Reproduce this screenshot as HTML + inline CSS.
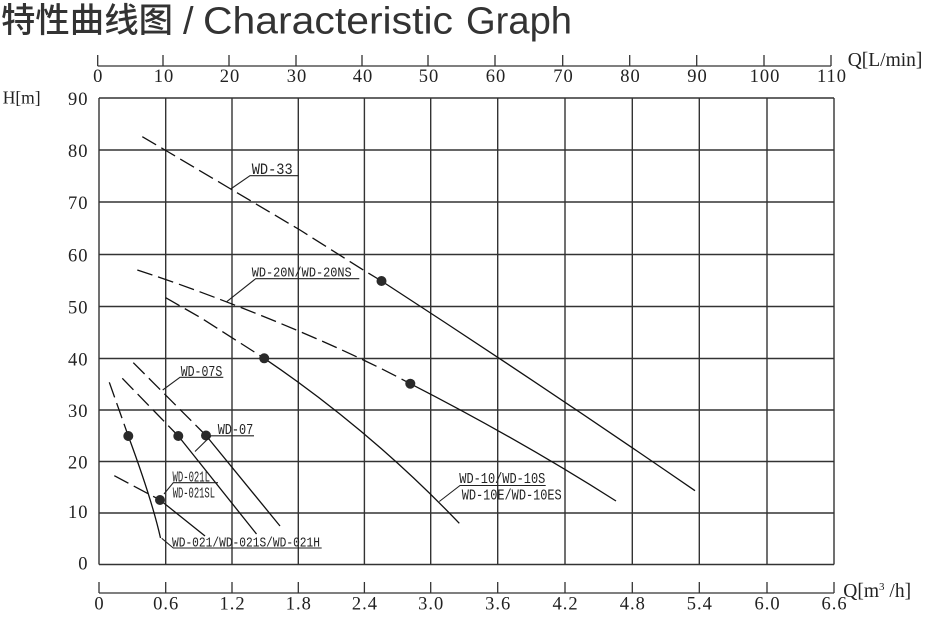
<!DOCTYPE html>
<html><head><meta charset="utf-8"><style>
html,body{margin:0;padding:0;background:#fff;}
svg{display:block;}
.t{font-family:"Liberation Serif",serif;font-size:18.5px;fill:#222;letter-spacing:1px;}
.lb{font-family:"Liberation Mono",monospace;font-size:15px;fill:#222;}
</style></head><body>
<svg width="930" height="617" viewBox="0 0 930 617" xmlns="http://www.w3.org/2000/svg">
<rect width="930" height="617" fill="#fff"/>
<!-- title -->
<text x="1" y="32" font-family="'Liberation Sans','Noto Sans CJK SC',sans-serif" font-size="34" font-weight="500" fill="#333" textLength="172" lengthAdjust="spacingAndGlyphs">特性曲线图</text>
<text x="183" y="33.3" font-family="'Liberation Sans',sans-serif" font-size="38" fill="#333">/</text>
<text x="203" y="33.3" font-family="'Liberation Sans',sans-serif" font-size="38" fill="#333" textLength="250" lengthAdjust="spacingAndGlyphs">Characteristic</text>
<text x="466" y="33.3" font-family="'Liberation Sans',sans-serif" font-size="38" fill="#333" textLength="106" lengthAdjust="spacingAndGlyphs">Graph</text>

<!-- top axis -->
<g stroke="#333" stroke-width="1.3" fill="none">
<line x1="97.7" y1="66" x2="831" y2="66"/>
<line x1="97.7" y1="55" x2="97.7" y2="66"/>
<line x1="163" y1="55" x2="163" y2="66"/>
<line x1="229" y1="55" x2="229" y2="66"/>
<line x1="296" y1="55" x2="296" y2="66"/>
<line x1="362" y1="55" x2="362" y2="66"/>
<line x1="428" y1="55" x2="428" y2="66"/>
<line x1="495" y1="55" x2="495" y2="66"/>
<line x1="562.7" y1="55" x2="562.7" y2="66"/>
<line x1="629.7" y1="55" x2="629.7" y2="66"/>
<line x1="696.7" y1="55" x2="696.7" y2="66"/>
<line x1="764" y1="55" x2="764" y2="66"/>
<line x1="831" y1="55" x2="831" y2="66"/>
</g>
<g class="t" text-anchor="middle">
<text x="98.2" y="82">0</text>
<text x="164" y="82">10</text>
<text x="230" y="82">20</text>
<text x="297" y="82">30</text>
<text x="363" y="82">40</text>
<text x="429" y="82">50</text>
<text x="496" y="82">60</text>
<text x="563.5" y="82">70</text>
<text x="630.5" y="82">80</text>
<text x="697.5" y="82">90</text>
<text x="765" y="82">100</text>
<text x="832" y="82">110</text>
</g>
<text x="847.7" y="66" font-family="'Liberation Serif',serif" font-size="19.5" fill="#222">Q[L/min]</text>

<!-- grid -->
<g stroke="#333" stroke-width="1.4" fill="none">
<line x1="99" y1="98" x2="834" y2="98"/>
<line x1="99" y1="150" x2="834" y2="150"/>
<line x1="99" y1="202" x2="834" y2="202"/>
<line x1="99" y1="254.5" x2="834" y2="254.5"/>
<line x1="99" y1="306.5" x2="834" y2="306.5"/>
<line x1="99" y1="358.5" x2="834" y2="358.5"/>
<line x1="99" y1="410" x2="834" y2="410"/>
<line x1="99" y1="461.5" x2="834" y2="461.5"/>
<line x1="99" y1="513" x2="834" y2="513"/>
<line x1="99" y1="564.5" x2="834" y2="564.5"/>
<line x1="99" y1="98" x2="99" y2="564.5"/>
<line x1="165.7" y1="98" x2="165.7" y2="564.5"/>
<line x1="232" y1="98" x2="232" y2="564.5"/>
<line x1="298.3" y1="98" x2="298.3" y2="564.5"/>
<line x1="364.4" y1="98" x2="364.4" y2="564.5"/>
<line x1="430.7" y1="98" x2="430.7" y2="564.5"/>
<line x1="497.7" y1="98" x2="497.7" y2="564.5"/>
<line x1="565" y1="98" x2="565" y2="564.5"/>
<line x1="632.3" y1="98" x2="632.3" y2="564.5"/>
<line x1="699.3" y1="98" x2="699.3" y2="564.5"/>
<line x1="767" y1="98" x2="767" y2="564.5"/>
<line x1="834" y1="98" x2="834" y2="564.5"/>
</g>

<!-- y labels -->
<text x="2.7" y="103.5" font-family="'Liberation Serif',serif" font-size="17.5" fill="#222">H[m]</text>
<g class="t" text-anchor="end">
<text x="88.5" y="105">90</text>
<text x="88.5" y="157">80</text>
<text x="88.5" y="209">70</text>
<text x="88.5" y="261.5">60</text>
<text x="88.5" y="313.5">50</text>
<text x="88.5" y="365.5">40</text>
<text x="88.5" y="417">30</text>
<text x="88.5" y="468.5">20</text>
<text x="88.5" y="518">10</text>
<text x="88.5" y="569.5">0</text>
</g>

<!-- bottom axis -->
<g stroke="#333" stroke-width="1.3" fill="none">
<line x1="99" y1="593" x2="834" y2="593"/>
<line x1="99" y1="582" x2="99" y2="593"/>
<line x1="165.7" y1="582" x2="165.7" y2="593"/>
<line x1="232" y1="582" x2="232" y2="593"/>
<line x1="298.3" y1="582" x2="298.3" y2="593"/>
<line x1="364.4" y1="582" x2="364.4" y2="593"/>
<line x1="430.7" y1="582" x2="430.7" y2="593"/>
<line x1="497.7" y1="582" x2="497.7" y2="593"/>
<line x1="565" y1="582" x2="565" y2="593"/>
<line x1="632.3" y1="582" x2="632.3" y2="593"/>
<line x1="699.3" y1="582" x2="699.3" y2="593"/>
<line x1="767" y1="582" x2="767" y2="593"/>
<line x1="834" y1="582" x2="834" y2="593"/>
</g>
<g class="t" text-anchor="middle">
<text x="99.5" y="609.5">0</text>
<text x="166.2" y="609.5">0.6</text>
<text x="232.5" y="609.5">1.2</text>
<text x="298.8" y="609.5">1.8</text>
<text x="364.9" y="609.5">2.4</text>
<text x="431.2" y="609.5">3.0</text>
<text x="498.2" y="609.5">3.6</text>
<text x="565.5" y="609.5">4.2</text>
<text x="632.8" y="609.5">4.8</text>
<text x="699.8" y="609.5">5.4</text>
<text x="767.5" y="609.5">6.0</text>
<text x="834.5" y="609.5">6.6</text>
</g>
<text x="843.3" y="597" font-family="'Liberation Serif',serif" font-size="19.5" fill="#222">Q[m<tspan font-size="11" dy="-7">3</tspan><tspan dy="7"> /h]</tspan></text>

<!-- curves dashed -->
<g stroke="#111" stroke-width="1.3" fill="none" stroke-dasharray="16 6">
<polyline points="142.3,136.7 165,150 230.7,189 300,230 363.3,270 381.5,281"/>
<path d="M137.3,270 C200,290 330,340 410.3,383.7"/>
<polyline points="165.7,297.7 201.7,318.3 264.2,358.3"/>
<polyline points="133.3,362.7 206,435.5"/>
<polyline points="122.3,378.3 178.3,436"/>
<polyline points="109.3,382.3 128.3,436"/>
<polyline points="114.3,475.7 160,500"/>
</g>
<!-- curves solid -->
<g stroke="#111" stroke-width="1.3" fill="none">
<path d="M381.5,281 Q540,384 695,490.7"/>
<path d="M410.3,383.7 Q520,440 616,501"/>
<path d="M264.2,358.3 Q370,430 459.3,523.3"/>
<polyline points="206,435.5 280,526"/>
<polyline points="178.3,436 256.5,534"/>
<path d="M128.3,436 Q152,500 160.5,538"/>
<polyline points="160,500 205,536"/>
</g>
<!-- dots -->
<g fill="#2a2a2a">
<circle cx="381.5" cy="281" r="5"/>
<circle cx="410.3" cy="383.7" r="5"/>
<circle cx="264.2" cy="358.3" r="5"/>
<circle cx="206" cy="435.5" r="5"/>
<circle cx="178.3" cy="436" r="5"/>
<circle cx="128.3" cy="436" r="5"/>
<circle cx="160" cy="500" r="5"/>
</g>

<!-- leaders + underlines -->
<g stroke="#222" stroke-width="1.1" fill="none">
<polyline points="230.7,189 250,175.7 298.3,175.7"/>
<polyline points="226.7,301.7 255.7,278.7 359.3,278.7"/>
<polyline points="439.3,501.5 460,485.5 545.7,485.5"/>
<polyline points="162.7,390 180,377.3 223.3,377.3"/>
<polyline points="195,451.5 211,435.8 254,435.8"/>
<polyline points="164,494 173.3,482.7 218,482.7"/>
<polyline points="161.7,538.3 173.3,548 321.7,548"/>
</g>

<!-- labels -->
<g class="lb">
<text x="251.7" y="174" font-size="16" textLength="41" lengthAdjust="spacingAndGlyphs">WD-33</text>
<text x="251.7" y="276.5" font-size="14" textLength="100" lengthAdjust="spacingAndGlyphs">WD-20N/WD-20NS</text>
<text x="459.3" y="483" textLength="86" lengthAdjust="spacingAndGlyphs">WD-10/WD-10S</text>
<text x="461.7" y="499.3" textLength="100" lengthAdjust="spacingAndGlyphs">WD-10E/WD-10ES</text>
<text x="180.7" y="376" textLength="41.6" lengthAdjust="spacingAndGlyphs">WD-07S</text>
<text x="217.7" y="434" textLength="35.6" lengthAdjust="spacingAndGlyphs">WD-07</text>
<text x="172.5" y="481.5" font-size="15" textLength="37.5" lengthAdjust="spacingAndGlyphs">WD-021L</text>
<text x="172.7" y="497.3" font-size="15" textLength="42.3" lengthAdjust="spacingAndGlyphs">WD-021SL</text>
<text x="172" y="546.5" font-size="14" textLength="148" lengthAdjust="spacingAndGlyphs">WD-021/WD-021S/WD-021H</text>
</g>
</svg>
</body></html>
